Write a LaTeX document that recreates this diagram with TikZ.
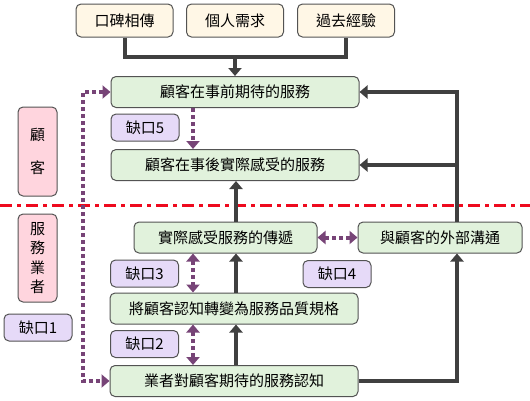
\documentclass[tikz,border=0pt]{standalone}
\usepackage{fontspec}
\setmainfont{Noto Sans CJK TC}
\usetikzlibrary{arrows.meta}
\definecolor{cream}{HTML}{FFF7E6}
\definecolor{greenf}{HTML}{E1F2DC}
\definecolor{lav}{HTML}{E6DAF8}
\definecolor{pinkf}{HTML}{FFD5DE}
\definecolor{purp}{HTML}{774477}
\definecolor{dgray}{HTML}{404040}
\definecolor{redl}{HTML}{EE0A1E}
\tikzset{
  x=1pt, y=-1pt,
  base/.style={draw=dgray!90, line width=1pt, rounded corners=5pt, inner sep=0pt, font=\fontsize{15}{16}\selectfont},
  topbox/.style={base, fill=cream, minimum width=97pt, minimum height=33pt},
  gbox/.style={base, fill=greenf, minimum height=31pt},
  gapbox/.style={base, fill=lav, minimum width=68pt, minimum height=27pt},
  sidebox/.style={base, fill=pinkf, minimum width=39pt, align=center, text=black},
  solid arrow/.style={draw=dgray, line width=4pt, -{Triangle[length=8pt,width=13pt]}},
  solid line/.style={draw=dgray, line width=4pt},
  dot arrow/.style={draw=purp, line width=4pt, dash pattern=on 4pt off 3pt, -{Triangle[length=8pt,width=13pt]}},
  dot both/.style={draw=purp, line width=4pt, dash pattern=on 4pt off 3pt, {Triangle[length=8pt,width=13pt]}-{Triangle[length=8pt,width=13pt]}},
}
\begin{document}
\begin{tikzpicture}
\useasboundingbox (0,0) rectangle (530,400);
% top inputs
\node[topbox] (wom) at (124.5,20.5) {口碑相傳};
\node[topbox] (need) at (235,20.5) {個人需求};
\node[topbox] (past) at (346,20.5) {過去經驗};
% customer side
\node[gbox, minimum width=248pt] (exp) at (235,92) {顧客在事前期待的服務};
\node[gapbox] (g5) at (145,127.5) {缺口5};
\node[gbox, minimum width=248pt] (per) at (235,165) {顧客在事後實際感受的服務};
\node[sidebox, minimum height=89pt] (cust) at (37.5,151.5) {顧\\[17pt]客};
% separator
\coordinate (sepL) at (0,205);
\coordinate (sepR) at (530,205);
\draw[redl, line width=3pt, dash pattern=on 12pt off 5pt on 4pt off 5pt] (sepL) -- (sepR);
% provider side
\node[sidebox, minimum height=88pt, font=\fontsize{15}{19.5}\selectfont] (prov) at (37.5,258) {服\\務\\業\\者};
\node[gapbox] (g1) at (38,327.5) {缺口1};
\node[gbox, minimum width=183pt] (del) at (225.5,237.5) {實際感受服務的傳遞};
\node[gbox, minimum width=164pt] (ext) at (440,237.5) {與顧客的外部溝通};
\node[gapbox] (g4) at (337,274) {缺口4};
\node[gapbox] (g3) at (144.5,273.5) {缺口3};
\node[gbox, minimum width=248pt] (spec) at (234,308.5) {將顧客認知轉變為服務品質規格};
\node[gapbox] (g2) at (144.5,344) {缺口2};
\node[gbox, minimum width=248pt] (perc) at (234,381) {業者對顧客期待的服務認知};
% junction coordinates
\coordinate (jw) at (wom.south |- 0,57);
\coordinate (jp) at (past.south |- 0,57);
\coordinate (jn) at (need.south |- 0,57);
\coordinate (rtop) at (457,92);
\coordinate (rmid) at (457,165);
\coordinate (rbot) at (457,381);
\coordinate (ltop) at (83,92);
\coordinate (lbot) at (83,381);
% solid connectors
\draw[solid line] (wom.south) -- (jw) -- (jp) -- (past.south);
\draw[solid arrow] (jn) -- (exp.north);
\draw[solid arrow] (ext.north -| rtop) |- (exp.east);
\draw[solid arrow] (rmid) -- (per.east);
\draw[solid arrow] (perc.east) -| (ext.south -| rbot);
\draw[solid arrow] (perc.north -| 236,0) -- (spec.south -| 236,0);
\draw[solid arrow] (spec.north -| 236,0) -- (del.south -| 236,0);
\draw[solid arrow] (del.north -| 236,0) -- (per.south -| 236,0);
% dotted connectors
\draw[dot arrow] (exp.south -| 193,0) -- (per.north -| 193,0);
\draw[dot both] (del.south -| 193,0) -- (spec.north -| 193,0);
\draw[dot both] (spec.south -| 193,0) -- (perc.north -| 193,0);
\draw[dot both] (del.east) -- (ext.west);
\draw[dot both] (exp.west) -- (ltop) -- (lbot) -- (perc.west);
\end{tikzpicture}
\end{document}
